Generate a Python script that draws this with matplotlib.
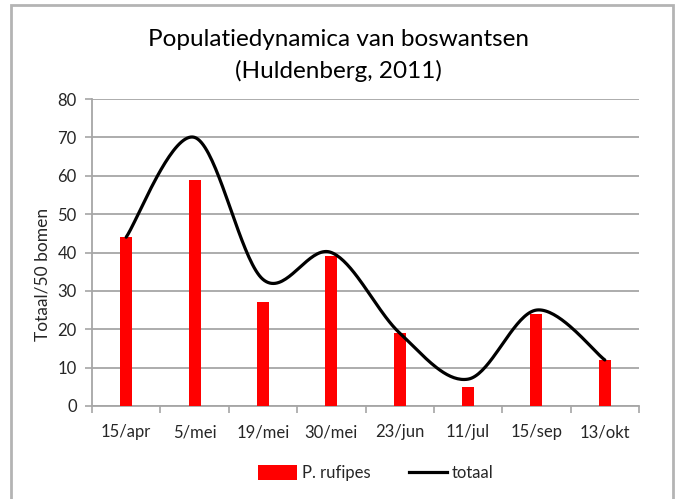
import numpy as np
import matplotlib
matplotlib.use("Agg")
import matplotlib.pyplot as plt
from matplotlib.lines import Line2D
from matplotlib.patches import Patch, Rectangle

categories = ["15/apr", "5/mei", "19/mei", "30/mei", "23/jun", "11/jul", "15/sep", "13/okt"]
rufipes = [44, 59, 27, 39, 19, 5, 24, 12]
totaal = [44, 70, 33, 40, 19, 7, 25, 12]

plt.rcParams['font.family'] = ['Lato', 'DejaVu Sans']
txt = '#262626'
grid = '#a6a6a6'

fig = plt.figure(figsize=(6.76, 4.99), dpi=100)
fig.patches.append(Rectangle((11/676, -0.05), (673-11)/676, 1.05 - 5/499,
                             transform=fig.transFigure, fill=False,
                             edgecolor='#b4b4b4', linewidth=2))
ax = fig.add_axes([92/676, 1 - 406/499, (639-92)/676, (406-99)/499])

x = np.arange(len(categories))
ax.bar(x, rufipes, width=0.175, color='#ff0000', zorder=3)

# Excel-style smoothed line (Catmull-Rom Bezier)
pts = np.column_stack([x, totaal]).astype(float)
ext = np.vstack([pts[0], pts, pts[-1]])
curve = []
t = np.linspace(0, 1, 40)
for i in range(len(pts) - 1):
    p0, p1, p2, p3 = ext[i], ext[i+1], ext[i+2], ext[i+3]
    c1 = p1 + (p2 - p0) / 6
    c2 = p2 - (p3 - p1) / 6
    seg = ((1-t)**3)[:, None]*p1 + (3*(1-t)**2*t)[:, None]*c1 + (3*(1-t)*t**2)[:, None]*c2 + (t**3)[:, None]*p2
    curve.append(seg)
curve = np.vstack(curve)
ax.plot(curve[:, 0], curve[:, 1], color='black', linewidth=2.3, zorder=4,
        solid_capstyle='round')

ax.set_xlim(-0.5, len(categories) - 0.5)
ax.set_ylim(0, 80)
ax.set_yticks(range(0, 81, 10))
ax.set_xticks(x)
ax.set_xticklabels(categories)
ax.set_xticks(np.arange(-0.5, len(categories)), minor=True)
ax.tick_params(axis='x', which='major', length=0, pad=13, labelsize=12, colors=txt)
ax.tick_params(axis='x', which='minor', length=5, width=1.2, color=grid)
ax.tick_params(axis='y', length=5, width=1.2, color=grid, labelsize=12,
               labelcolor=txt, pad=6)
ax.yaxis.grid(True, color=grid, linewidth=1.3, zorder=0)
ax.set_axisbelow(True)
for s in ['top', 'right']:
    ax.spines[s].set_visible(False)
for s in ['left', 'bottom']:
    ax.spines[s].set_color(grid)
    ax.spines[s].set_linewidth(1.3)

ax.set_ylabel("Totaal/50 bomen", fontsize=12.5, color=txt)
ax.yaxis.set_label_coords(-0.076, 0.43)

fig.text(0.5, 1 - 39/499, "Populatiedynamica van boswantsen", ha='center',
         va='center', fontsize=17.5, color='black')
fig.text(0.5, 1 - 71/499, "(Huldenberg, 2011)", ha='center', va='center',
         fontsize=17.5, color='black')

handles = [Patch(facecolor='#ff0000', edgecolor='none'),
           Line2D([0], [0], color='black', linewidth=2.3)]
fig.legend(handles, ["P. rufipes", "totaal"], loc='center',
           bbox_to_anchor=(376/676, 1 - 473/499), ncol=2, frameon=False,
           fontsize=12, handlelength=2.3, handleheight=1.0, handletextpad=0.3,
           columnspacing=2.3, labelcolor=txt)

fig.savefig("out.png", dpi=100)
